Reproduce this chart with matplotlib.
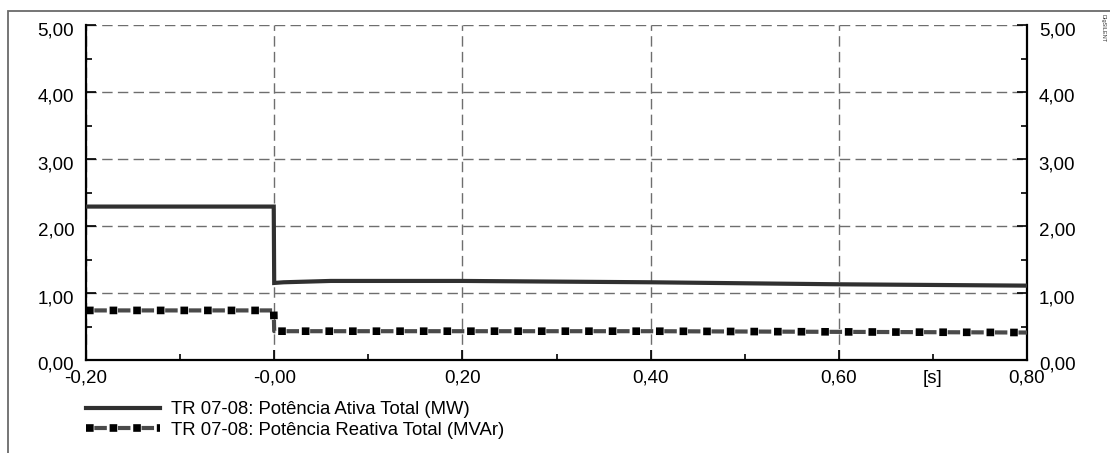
import numpy as np
import matplotlib
matplotlib.use("Agg")
import matplotlib.pyplot as plt
from matplotlib.patches import Rectangle
from matplotlib.ticker import FixedLocator, MultipleLocator
from matplotlib.transforms import ScaledTranslation
from matplotlib.legend_handler import HandlerTuple

plt.rcParams['font.family'] = ['Liberation Sans', 'DejaVu Sans']
plt.rcParams['lines.scale_dashes'] = False

# valores
t_ativa = [-0.20, -0.0005, 0.0, 0.01, 0.06, 0.20, 0.40, 0.60, 0.80]
p_ativa = [2.29, 2.29, 1.15, 1.16, 1.18, 1.18, 1.16, 1.13, 1.11]

t_reativa = [-0.20, -0.0005, 0.0, 0.20, 0.40, 0.60, 0.80]
q_reativa = [0.74, 0.74, 0.43, 0.43, 0.43, 0.42, 0.41]

x_ticks = [-0.2, 0.0, 0.2, 0.4, 0.6, 0.8]
x_labels = ['-0,20', '-0,00', '0,20', '0,40', '0,60', '0,80']
y_ticks = [0, 1, 2, 3, 4, 5]
y_labels = ['0,00', '1,00', '2,00', '3,00', '4,00', '5,00']

nome_ativa = 'TR 07-08: Potência Ativa Total (MW)'
nome_reativa = 'TR 07-08: Potência Reativa Total (MVAr)'

W, H = 1110, 453
fig = plt.figure(figsize=(W / 100, H / 100), dpi=100)
ax = fig.add_axes([86 / W, 1 - 360 / H, (1027 - 86) / W, (360 - 25) / H])

l_ativa, = ax.plot(t_ativa, p_ativa, color='#303030', lw=3.0, solid_joinstyle='miter', zorder=3)
# reativa: tracos cinza + quadrados pretos (feitos com padrao de tracos)
l_reat1, = ax.plot(t_reativa, q_reativa, color='#4a4a4a', lw=3.0, linestyle=(11, (9, 8)),
                   dash_capstyle='butt', zorder=3)
l_reat2, = ax.plot(t_reativa, q_reativa, color='black', lw=5.5, linestyle=(0, (5.5, 11.5)),
                   dash_capstyle='butt', zorder=4)

ax.set_xlim(-0.2, 0.8)
ax.set_ylim(0, 5)

ax.xaxis.set_major_locator(FixedLocator(x_ticks))
ax.set_xticklabels(x_labels)
ax.xaxis.set_minor_locator(MultipleLocator(0.1))
ax.yaxis.set_major_locator(FixedLocator(y_ticks))
ax.set_yticklabels(y_labels)
ax.yaxis.set_minor_locator(MultipleLocator(0.5))

ax.tick_params(axis='both', which='both', direction='in', color='black', width=1.2)
ax.tick_params(axis='both', which='major', length=7)
ax.tick_params(axis='both', which='minor', length=4)
ax.tick_params(axis='y', which='both', left=True, right=True, labelleft=True, labelright=True,
               labelsize=13.5, pad=8.5)
ax.tick_params(axis='x', which='both', top=False, labelsize=13.5, pad=7)

# rotulos do eixo y um pouco abaixo do tick, como no original
desloc = ScaledTranslation(0, -0.035, fig.dpi_scale_trans)
for tk in ax.yaxis.get_major_ticks():
    tk.label1.set_transform(tk.label1.get_transform() + desloc)
    tk.label2.set_transform(tk.label2.get_transform() + desloc)

ax.grid(True, which='major', color='#6e6e6e', lw=1.0, linestyle=(0, (7.5, 3.8)))
ax.set_axisbelow(True)

for lado in ['left', 'right', 'bottom']:
    ax.spines[lado].set_linewidth(1.6)
    ax.spines[lado].set_color('black')
ax.spines['top'].set_visible(False)

ax.annotate('[s]', xy=(0.7, 0), xycoords=('data', 'axes fraction'),
            xytext=(0, -7), textcoords='offset points',
            ha='center', va='top', fontsize=13.5)

leg = ax.legend([l_ativa, (l_reat1, l_reat2)], [nome_ativa, nome_reativa],
                handler_map={tuple: HandlerTuple(ndivide=1)},
                loc='upper left', bbox_to_anchor=(86 / W, 1 - 401 / H),
                bbox_transform=fig.transFigure, frameon=False, fontsize=13.3,
                handlelength=4.0, handletextpad=0.6, labelspacing=0.2,
                borderpad=0, borderaxespad=0)

# moldura externa
fig.patches.append(Rectangle((8 / W, -0.1), 1.2, 1.1 - 10.5 / H, transform=fig.transFigure,
                             fill=False, edgecolor='#6a6a6a', lw=1.3, clip_on=False))
fig.text(1103 / W, 1 - 14 / H, 'DIgSILENT', rotation=-90, fontsize=4, va='top',
         ha='center', color='#333333')

fig.savefig('out.png', dpi=100)
